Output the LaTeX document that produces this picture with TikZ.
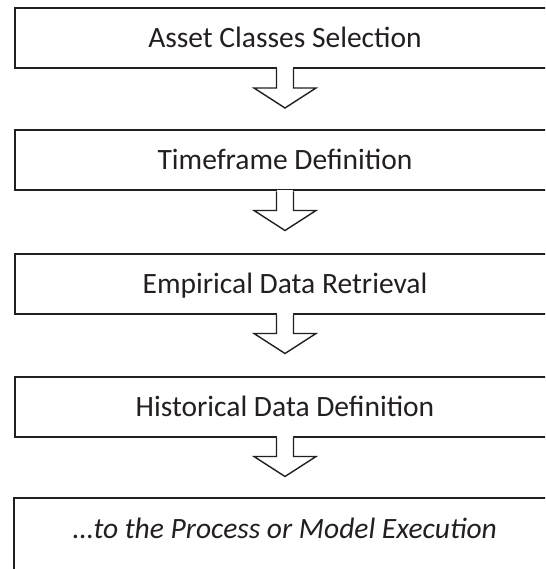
\documentclass[tikz,border=0pt]{standalone}
\usepackage{fontspec}
\setmainfont{Carlito}
\usetikzlibrary{calc}
\definecolor{ink}{HTML}{231F20}
\tikzset{
  stage/.style={draw=ink, line width=2pt, minimum width=541pt, minimum height=60pt,
    inner sep=0pt, text=ink, font=\fontsize{29.5}{35}\selectfont,
    text height=19pt, text depth=0pt},
  blockarrow/.style={draw=ink, line width=1.4pt, fill=white, line join=miter},
  gapfill/.style={fill=white, draw=none},
}
\newcommand{\blockarrowfrom}[1]{%
  \fill[gapfill] ($(#1.south)+(-7.8,-1.6)$) rectangle ($(#1.south)+(7.8,0.5)$);
  \draw[blockarrow] ($(#1.south)+(-8.5,0)$) -- ++(0,19) -- ++(-22.5,0)
     -- ($(#1.south)+(0,39)$) -- ($(#1.south)+(31,19)$) -- ++(-22.5,0) -- ($(#1.south)+(8.5,0)$);
}
\begin{document}
\begin{tikzpicture}[x=1pt,y=-1pt]
\useasboundingbox (0,0) rectangle (545,569);
\clip (0,0) rectangle (545,569);
\fill[white] (0,0) rectangle (545,569);
\node[stage] (b1) at (285,38) {Asset Classes Selection};
\node[stage] (b2) at (285,160.5) {Timeframe Definition};
\node[stage] (b3) at (285,283.5) {Empirical Data Retrieval};
\node[stage] (b4) at (285,406.5) {Historical Data Definition};
\node[stage, draw=none, font=\fontsize{29.5}{35}\selectfont\itshape] (b5) at (285,529) {…to the Process or Model Execution};
\draw[ink, line width=2pt] (b5.north west) rectangle ($(b5.south east)+(0,40)$);
\blockarrowfrom{b1}
\blockarrowfrom{b2}
\blockarrowfrom{b3}
\blockarrowfrom{b4}
\end{tikzpicture}
\end{document}
